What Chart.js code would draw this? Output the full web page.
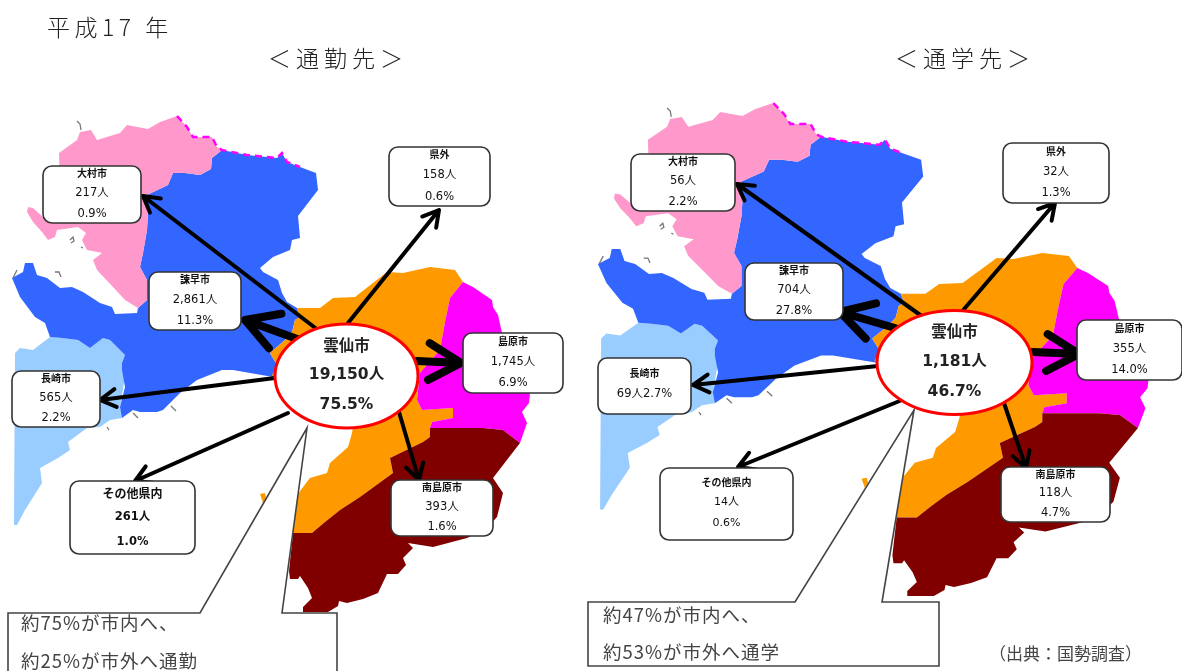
<!DOCTYPE html>
<html lang="ja">
<head>
<meta charset="utf-8">
<title>雲仙市 通勤先・通学先</title>
<script src="https://cdn.jsdelivr.net/npm/chart.js@4/dist/chart.umd.min.js"></script>
<style>
  html, body { margin: 0; padding: 0; background: #fff; }
  canvas { display: block; }
</style>
</head>
<body>
<canvas id="myChart" width="1182" height="671"></canvas>
<script>
  /////////////////////////////////////
 /*               DATA              */
/////////////////////////////////////

var destinations = ["大村市", "県外", "諫早市", "島原市", "長崎市", "その他県内", "南島原市"];
var commuteCounts = [217, 158, 2861, 1745, 565, 261, 393];
var commuteShares = [0.9, 0.6, 11.3, 6.9, 2.2, 1.0, 1.6];
var schoolCounts = [56, 32, 704, 355, 69, 14, 118];
var schoolShares = [2.2, 1.3, 27.8, 14.0, 2.7, 0.6, 4.7];

var homeCity = "雲仙市";
var commuteHome = [19150, 75.5];
var schoolHome = [1181, 46.7];

var yearLabel = "平成17 年";
var commuteHeading = "＜通勤先＞";
var schoolHeading = "＜通学先＞";
var commuteNote = ["約75%が市内へ、", "約25%が市外へ通勤"];
var schoolNote = ["約47%が市内へ、", "約53%が市外へ通学"];
var sourceNote = "（出典：国勢調査）";

  /////////////////////////////////////
 /*          MAP OUTLINES           */
/////////////////////////////////////
// axes run in picture units, the school map is the same outline stretched (see toSchoolMap)

var nagasakiOutline = [[15,353],[20,348],[33,350],[50,337],[62,338],[78,340],[90,348],[103,338],[110,340],[125,355],[122,363],[125,377],[120,407],[122,418],[110,420],[100,427],[87,428],[68,442],[70,450],[58,458],[40,468],[42,483],[25,510],[17,525],[14,525]];
var isahayaOutline = [[222,150],[247,155],[277,158],[282,153],[287,162],[300,167],[316,173],[318,190],[308,203],[298,216],[300,238],[292,240],[290,250],[273,257],[260,268],[263,272],[278,280],[282,293],[287,302],[297,308],[300,317],[295,320],[292,332],[285,340],[270,353],[277,365],[273,377],[233,370],[222,370],[197,380],[180,393],[163,410],[157,412],[140,412],[133,410],[122,418],[120,407],[125,387],[122,370],[122,363],[125,355],[110,340],[103,338],[90,348],[78,340],[62,338],[50,337],[45,323],[35,317],[20,297],[12,278],[23,272],[25,263],[33,263],[37,275],[47,278],[60,288],[72,287],[83,292],[100,303],[112,307],[115,314],[137,313],[138,308],[147,300],[147,280],[140,267],[143,253],[147,230],[148,213],[147,195],[168,185],[173,173],[185,173],[200,175],[211,169],[212,158]];
var omuraOutline = [[59,153],[77,140],[80,132],[91,130],[97,140],[120,133],[127,125],[148,129],[160,122],[177,116],[187,127],[193,137],[212,137],[217,147],[222,150],[212,158],[211,169],[200,175],[185,173],[173,173],[168,185],[147,195],[148,213],[147,230],[143,253],[140,267],[147,280],[147,300],[138,308],[125,300],[113,287],[97,270],[93,260],[102,253],[87,250],[82,240],[86,233],[78,227],[57,230],[55,237],[48,240],[42,232],[33,222],[27,212],[28,207],[33,208],[43,217],[60,190]];
var unzenOutline = [[297,308],[320,308],[333,298],[355,297],[387,272],[403,273],[430,267],[455,270],[463,282],[450,298],[445,322],[440,350],[420,373],[417,400],[422,410],[453,408],[453,418],[432,422],[430,428],[430,437],[423,442],[390,458],[393,473],[360,497],[340,510],[325,522],[312,533],[293,533],[297,495],[310,478],[327,473],[330,463],[348,447],[352,433],[353,427],[345,410],[285,395],[272,375],[277,365],[270,353],[285,340],[292,332],[295,320],[300,317]];
var unzenIslet = [[260,494],[265,493],[266,498],[263,503]];
var shimabaraOutline = [[463,282],[473,287],[492,300],[493,307],[498,315],[502,333],[525,360],[530,393],[529,403],[522,412],[527,423],[520,443],[503,430],[483,428],[430,428],[432,422],[453,418],[453,408],[422,410],[417,400],[420,373],[440,350],[445,322],[450,298]];
var minamiOutline = [[423,442],[430,437],[430,428],[483,428],[503,430],[520,443],[493,478],[503,493],[497,517],[485,530],[467,538],[433,547],[408,543],[413,548],[403,558],[406,565],[398,574],[387,574],[378,593],[363,599],[347,603],[339,601],[338,606],[328,612],[303,612],[303,607],[312,598],[308,588],[300,576],[298,579],[290,579],[289,571],[293,533],[312,533],[325,522],[340,510],[360,497],[393,473],[390,458]];

var borderDashes = [[177,116],[187,127],[193,137],[212,137],[217,147],[222,150],[247,155],[277,158],[282,153],[287,162],[300,167]];
var coastMarks = [[81,130],[80,124],[77,121],null,[17,270],[13,278],null,[70,240],[73,237],[74,241],[71,243],null,[55,272],[59,272],[61,277],null,[171,406],[176,411],null,[133,413],[138,418],null,[107,427],[109,430],null,[81,247],[83,248]];

  /////////////////////////////////////
 /*        ARROWS AND BOXES         */
/////////////////////////////////////
// same order as destinations: [tail x, tail y, tip x, tip y]

var commuteArrows = [[318,330,143,196],[348,323,439,210],[300,340,245,320],[417,361,461,363],[275,378,100,400],[288,413,135,481],[399,412,419,480]];
var schoolArrows = [[923,317,737,184],[959,315,1055,203],[895,328,840,312],[1033,352,1079,354],[878,366,693,385],[902,400,738,467],[1004,403,1026,468]];
var arrowWeights = [4, 4, 8, 8, 4, 4, 4];

// [left, top, right, bottom]
var commuteBoxes = [[43,166,141,223],[389,147,490,206],[149,272,241,330],[463,333,563,393],[12,371,100,427],[70,481,195,554],[391,480,493,536]];
var schoolBoxes = [[631,154,735,211],[1003,143,1109,203],[745,263,843,320],[1077,320,1182,380],[598,358,691,414],[660,468,793,540],[1001,467,1110,522]];

var commuteEllipse = [346.5, 376, 71.5, 52];
var schoolEllipse = [954.5, 362.5, 77.5, 52];

var commuteCallout = [[8,613],[200,613],[307,428],[282,613],[337,613],[337,690],[8,690]];
var schoolCallout = [[588,602],[795,602],[914,410],[882,602],[939,602],[939,666],[588,666]];

function toSchoolMap(pt) {
  if (!pt) return {x: null, y: null};
  return {x: 1.063 * pt[0] + 585.2, y: 0.994 * pt[1] - 12.3};
}
function toCommuteMap(pt) {
  if (!pt) return {x: null, y: null};
  return {x: pt[0], y: pt[1]};
}

  /////////////////////////////////////
 /*          BUILD DATASETS         */
/////////////////////////////////////

var datasets = [];

function addShape(points, fillColor, strokeColor) {
  datasets.push({
    closedShape: true,
    data: points,
    showLine: false,
    pointRadius: 0,
    fillColor: fillColor,
    strokeColor: strokeColor
  });
}

var regions = [
  [nagasakiOutline, "#99CCFF"],
  [isahayaOutline, "#3366FF"],
  [omuraOutline, "#FF99CC"],
  [unzenOutline, "#FF9900"],
  [unzenIslet, "#FF9900"],
  [shimabaraOutline, "#FF00FF"],
  [minamiOutline, "#800000"]
];

var maps = [toCommuteMap, toSchoolMap];
for (var m = 0; m < maps.length; m++) {
  for (var r = 0; r < regions.length; r++) {
    addShape(regions[r][0].map(maps[m]), regions[r][1], null);
  }
  datasets.push({
    data: borderDashes.map(maps[m]), showLine: true, pointRadius: 0,
    borderColor: "#FF00FF", borderWidth: 2.5, borderDash: [7, 5]
  });
  datasets.push({
    data: coastMarks.map(maps[m]), showLine: true, pointRadius: 0,
    borderColor: "#777777", borderWidth: 1.3
  });
}

addShape(commuteCallout.map(toCommuteMap), "#FFFFFF", "#444444");
addShape(schoolCallout.map(toCommuteMap), "#FFFFFF", "#444444");

function addArrow(a, weight) {
  var angle = Math.atan2(a[1] - a[3], a[0] - a[2]);
  var size = weight > 4 ? 37 : 18;
  var spread = 0.52;
  var barbA = {x: a[2] + size * Math.cos(angle + spread), y: a[3] + size * Math.sin(angle + spread)};
  var barbB = {x: a[2] + size * Math.cos(angle - spread), y: a[3] + size * Math.sin(angle - spread)};
  var tip = {x: a[2], y: a[3]};
  datasets.push({
    data: [{x: a[0], y: a[1]}, tip, {x: null, y: null}, barbA, tip, barbB],
    showLine: true,
    pointRadius: 0,
    borderColor: "#000000",
    borderWidth: weight,
    borderCapStyle: "round",
    borderJoinStyle: "round"
  });
}

for (var i = 0; i < destinations.length; i++) {
  addArrow(commuteArrows[i], arrowWeights[i]);
  addArrow(schoolArrows[i], arrowWeights[i]);
}

  /////////////////////////////////////
 /*             PLUGINS             */
/////////////////////////////////////

var latinFont = '"DejaVu Sans", "Noto Sans CJK JP", sans-serif';
var cjkFont = '"Noto Sans CJK JP", sans-serif';

var shapePlugin = {
  id: "shapes",
  beforeDatasetsDraw: function(chart) {
    var ctx = chart.ctx;
    chart.data.datasets.forEach(function(ds, idx) {
      if (!ds.closedShape) return;
      var pts = chart.getDatasetMeta(idx).data;
      ctx.beginPath();
      pts.forEach(function(p, n) {
        if (n == 0) ctx.moveTo(p.x, p.y); else ctx.lineTo(p.x, p.y);
      });
      ctx.closePath();
      ctx.fillStyle = ds.fillColor;
      ctx.fill();
      if (ds.strokeColor) {
        ctx.strokeStyle = ds.strokeColor;
        ctx.lineWidth = 1.6;
        ctx.stroke();
      }
    });
  }
};

function fmtCount(n) { return n.toLocaleString("en-US") + "人"; }
function fmtShare(n) { return n.toFixed(1) + "%"; }

function text(ctx, str, x, y, font, color, align, spacing) {
  ctx.font = font;
  ctx.fillStyle = color;
  ctx.textAlign = align || "center";
  ctx.textBaseline = "middle";
  ctx.letterSpacing = (spacing || 0) + "px";
  ctx.fillText(str, x, y);
  ctx.letterSpacing = "0px";
}

function drawBox(chart, box, name, count, share, isSchool) {
  var ctx = chart.ctx, sx = chart.scales.x, sy = chart.scales.y;
  var x0 = sx.getPixelForValue(box[0]), x1 = sx.getPixelForValue(box[2]);
  var y0 = sy.getPixelForValue(box[1]), y1 = sy.getPixelForValue(box[3]);
  var h = y1 - y0, cx = (x0 + x1) / 2;
  ctx.beginPath();
  ctx.roundRect(x0, y0, x1 - x0, h, 9);
  ctx.fillStyle = "#FFFFFF";
  ctx.fill();
  ctx.strokeStyle = "#333333";
  ctx.lineWidth = 1.6;
  ctx.stroke();

  var other = name == "その他県内";
  var rows = other ? (isSchool ? [0.2, 0.48, 0.77] : [0.17, 0.49, 0.83]) : [0.13, 0.48, 0.84];
  var nameFont = (other && !isSchool ? "bold 12px " : "bold 10px ") + cjkFont;
  var numFont = (other && !isSchool ? "bold 11.5px " : "11.5px ") + latinFont;
  if (other && isSchool) numFont = "11px " + latinFont;
  if (isSchool && name == "長崎市") {
    // this one has both numbers on one row
    text(ctx, name, cx, y0 + h * 0.28, nameFont, "#111111");
    text(ctx, fmtCount(count) + fmtShare(share), cx, y0 + h * 0.64, numFont, "#111111");
    return;
  }
  text(ctx, name, cx, y0 + h * rows[0], nameFont, "#111111");
  text(ctx, fmtCount(count), cx, y0 + h * rows[1], numFont, "#111111");
  text(ctx, fmtShare(share), cx, y0 + h * rows[2], numFont, "#111111");
}

function drawHome(chart, e, home) {
  var ctx = chart.ctx, sx = chart.scales.x, sy = chart.scales.y;
  var cx = sx.getPixelForValue(e[0]), cy = sy.getPixelForValue(e[1]);
  ctx.beginPath();
  ctx.ellipse(cx, cy, e[2], e[3], 0, 0, Math.PI * 2);
  ctx.fillStyle = "#FFFFFF";
  ctx.fill();
  ctx.strokeStyle = "#FF0000";
  ctx.lineWidth = 3;
  ctx.stroke();
  text(ctx, homeCity, cx, cy - 31, "bold 15.5px " + cjkFont, "#222222");
  text(ctx, fmtCount(home[0]), cx, cy - 1, "bold 15.5px " + latinFont, "#222222");
  text(ctx, fmtShare(home[1]), cx, cy + 29, "bold 15.5px " + latinFont, "#222222");
}

var labelPlugin = {
  id: "labels",
  afterDatasetsDraw: function(chart) {
    var ctx = chart.ctx, sx = chart.scales.x, sy = chart.scales.y;
    // the boxes and notes are soft in the original scan
    ctx.save();
    ctx.filter = "blur(0.45px)";
    for (var i = 0; i < destinations.length; i++) {
      drawBox(chart, commuteBoxes[i], destinations[i], commuteCounts[i], commuteShares[i], false);
      drawBox(chart, schoolBoxes[i], destinations[i], schoolCounts[i], schoolShares[i], true);
    }
    drawHome(chart, commuteEllipse, commuteHome);
    drawHome(chart, schoolEllipse, schoolHome);

    var noteFont = "18.5px " + cjkFont;
    text(ctx, commuteNote[0], sx.getPixelForValue(21), sy.getPixelForValue(623), noteFont, "#444444", "left", 1);
    text(ctx, commuteNote[1], sx.getPixelForValue(21), sy.getPixelForValue(661), noteFont, "#444444", "left", 1);
    text(ctx, schoolNote[0], sx.getPixelForValue(603), sy.getPixelForValue(615), noteFont, "#444444", "left", 1);
    text(ctx, schoolNote[1], sx.getPixelForValue(603), sy.getPixelForValue(652), noteFont, "#444444", "left", 1);
    text(ctx, sourceNote, sx.getPixelForValue(989), sy.getPixelForValue(654), "17px " + cjkFont, "#444444", "left");
    ctx.restore();

    var thin = "300 23px " + cjkFont;
    text(ctx, yearLabel, sx.getPixelForValue(47), sy.getPixelForValue(27), thin, "#222222", "left", 4.5);
    text(ctx, commuteHeading, sx.getPixelForValue(268), sy.getPixelForValue(58), thin, "#222222", "left", 5);
    text(ctx, schoolHeading, sx.getPixelForValue(895), sy.getPixelForValue(58), thin, "#222222", "left", 5);
  }
};

  /////////////////////////////////////
 /*              CHART              */
/////////////////////////////////////

var ctx = document.getElementById("myChart").getContext("2d");
var chart = new Chart(ctx, {
  type: "scatter",
  data: { datasets: datasets },
  options: {
    responsive: false,
    animation: false,
    events: [],
    layout: { padding: 0 },
    plugins: { legend: { display: false }, tooltip: { enabled: false } },
    scales: {
      x: { type: "linear", min: 0, max: 1182, display: false },
      y: { type: "linear", min: 0, max: 671, reverse: true, display: false }
    }
  },
  plugins: [shapePlugin, labelPlugin]
});
</script>
</body>
</html>
